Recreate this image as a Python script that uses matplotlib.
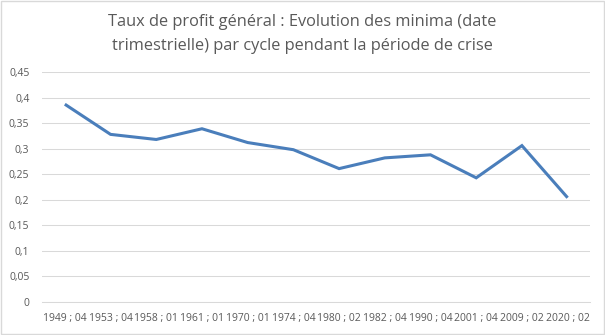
import numpy as np
import matplotlib
matplotlib.use("Agg")
import matplotlib.pyplot as plt
from matplotlib.patches import Rectangle
from matplotlib.ticker import FuncFormatter

# minima of the general profit rate, per cycle
periods = ["1949 ; 04", "1953 ; 04", "1958 ; 01", "1961 ; 01", "1970 ; 01", "1974 ; 04",
           "1980 ; 02", "1982 ; 04", "1990 ; 04", "2001 ; 04", "2009 ; 02", "2020 ; 02"]
taux = [0.387, 0.328, 0.318, 0.339, 0.312, 0.298, 0.261, 0.282, 0.288, 0.243, 0.306, 0.204]
yticks = np.arange(0, 0.451, 0.05)

plt.rcParams['font.family'] = ['Open Sans', 'DejaVu Sans']
grey = '#595959'

fig = plt.figure(figsize=(6.05, 3.35), dpi=100)
ax = fig.add_axes([0.0694, 0.0985, 0.9066, 0.6865])

x = np.arange(len(periods))
ax.plot(x, taux, color='#4a7ebb', linewidth=2.2, solid_capstyle='butt', solid_joinstyle='miter')

ax.set_xlim(-0.5, len(periods) - 0.5)
ax.set_ylim(0, 0.45)
ax.set_yticks(yticks)
ax.yaxis.set_major_formatter(FuncFormatter(lambda v, p: ('%g' % round(v, 2)).replace('.', ',')))
ax.set_xticks(x)
ax.set_xticklabels(periods)
ax.tick_params(axis='both', length=0, labelsize=7.5, labelcolor=grey)
ax.tick_params(axis='x', pad=8)
ax.tick_params(axis='y', pad=9)

ax.grid(axis='y', color='#d9d9d9', linewidth=0.75)
ax.set_axisbelow(True)
for s in ['top', 'right', 'left']:
    ax.spines[s].set_visible(False)
ax.spines['bottom'].set_color('#d9d9d9')
ax.spines['bottom'].set_linewidth(0.75)

fig.text(0.5, 0.958, "Taux de profit général : Evolution des minima (date\ntrimestrielle) par cycle pendant la période de crise",
         ha='center', va='top', fontsize=11.8, color=grey, linespacing=1.62)

fig.patches.append(Rectangle((0.001, 0.002), 0.997, 0.995, transform=fig.transFigure,
                             fill=False, edgecolor='#d9d9d9', linewidth=1))

fig.savefig('out.png', dpi=100)
